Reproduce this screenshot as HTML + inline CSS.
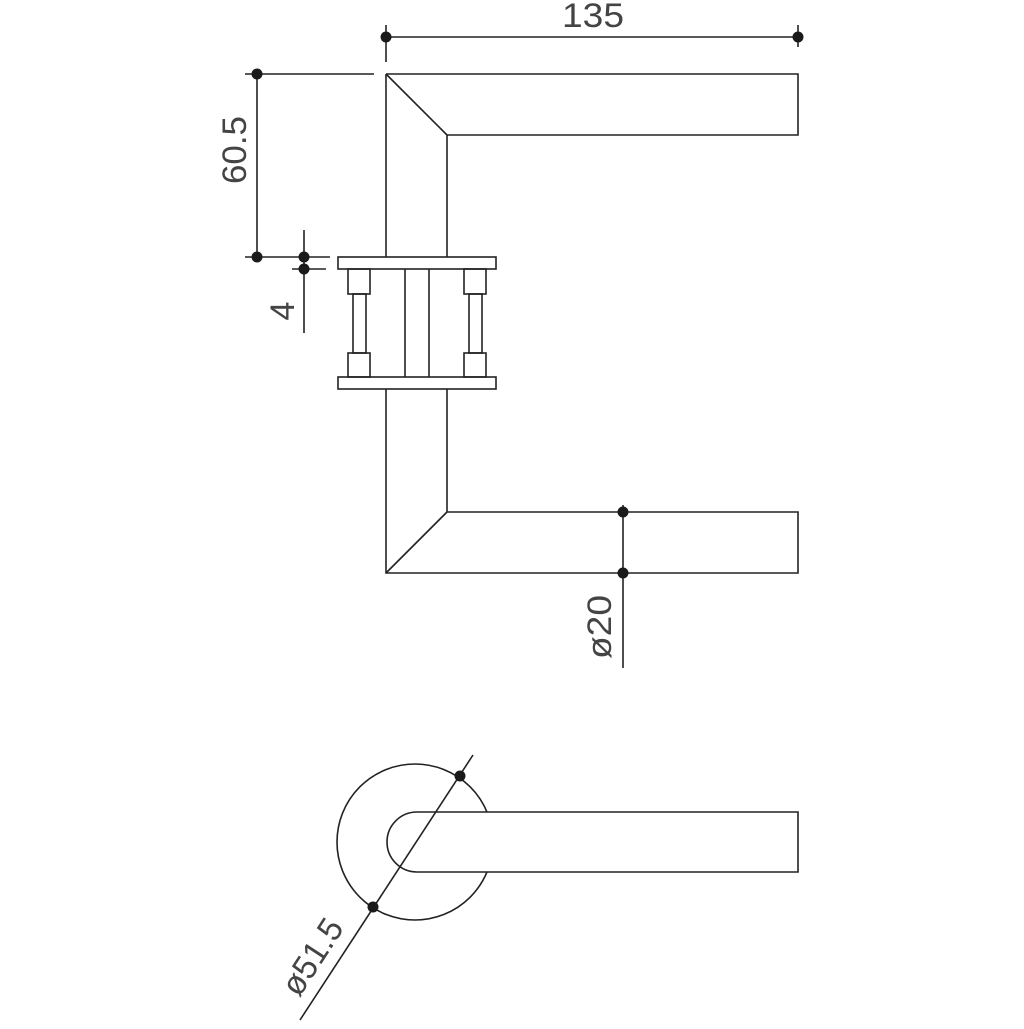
<!DOCTYPE html>
<html><head><style>html,body{margin:0;padding:0;background:#fff}</style></head><body>
<svg width="1024" height="1024" viewBox="0 0 1024 1024" xmlns="http://www.w3.org/2000/svg">
<g fill="none" stroke="#222" stroke-width="1.6">
<path d="M386 74 H798 V135 H447 V257 M386 74 V257 M386 74 L447 135"/>
<path d="M386 389 V573 H798 V512 H447 V389 M386 573 L447 512"/>
<rect x="338" y="257" width="158" height="12"/>
<rect x="338" y="377" width="158" height="12"/>
<rect x="348" y="269" width="22" height="25"/>
<rect x="348" y="353" width="22" height="24"/>
<rect x="353" y="294" width="13" height="59"/>
<rect x="464" y="269" width="22" height="25"/>
<rect x="464" y="353" width="22" height="24"/>
<rect x="469" y="294" width="13" height="59"/>
<path d="M405 269 V377 M429 269 V377"/>
<path d="M386 37 H798 M386 25 V62 M798 25 V47"/>
<path d="M245 74 H374 M257 74 V257 M245 257 H330 M304 230 V333 M292 269 H326"/>
<path d="M623 505 V668"/>
<circle cx="415" cy="842" r="78"/>
<path d="M798 812 H417 A30 30 0 0 0 417 872 H798 Z" fill="#fff"/>
<path d="M300 1020 L473 755"/>
</g>
<g fill="#1a1a1a">
<circle cx="386" cy="37" r="5.5"/><circle cx="798" cy="37" r="5.5"/>
<circle cx="257" cy="74" r="5.5"/><circle cx="257" cy="257" r="5.5"/>
<circle cx="304" cy="257" r="5.5"/><circle cx="304" cy="269" r="5.5"/>
<circle cx="623" cy="512" r="5.5"/><circle cx="623" cy="573" r="5.5"/>
<circle cx="460" cy="776" r="5.5"/><circle cx="373" cy="907" r="5.5"/>
</g>
<g font-family="Liberation Sans, sans-serif" fill="#444" font-size="34">
<text x="593" y="27" text-anchor="middle" textLength="62" lengthAdjust="spacingAndGlyphs">135</text>
<text transform="translate(246,150) rotate(-90)" text-anchor="middle" textLength="68" lengthAdjust="spacingAndGlyphs">60.5</text>
<text transform="translate(294,311) rotate(-90)" text-anchor="middle">4</text>
<text transform="translate(611,627) rotate(-90)" text-anchor="middle" textLength="64" lengthAdjust="spacingAndGlyphs">ø20</text>
<text transform="translate(322,963) rotate(-57)" text-anchor="middle" textLength="84" lengthAdjust="spacingAndGlyphs">ø51.5</text>
</g>
</svg>
</body></html>
